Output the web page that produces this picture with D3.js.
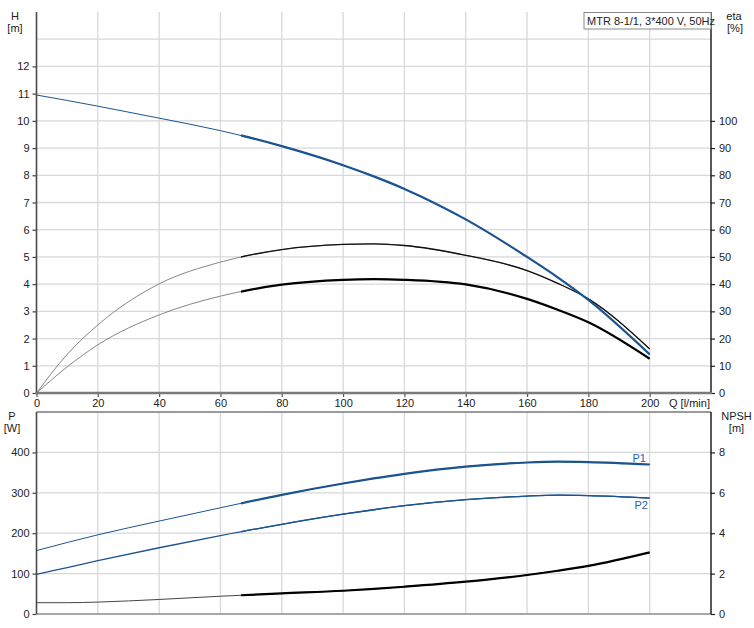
<!DOCTYPE html>
<html>
<head>
<meta charset="utf-8">
<script src="https://cdn.jsdelivr.net/npm/d3@7"></script>
<style>
  html, body { margin: 0; padding: 0; background: #fff; }
  svg { display: block; font-family: "Liberation Sans", Arial, sans-serif; }
</style>
</head>
<body>
<svg id="chart" width="754" height="628"></svg>
<script>
// ---------- data ----------
const flowQ      = [0, 10, 20, 40, 60, 80, 100, 110, 120, 140, 160, 170, 180, 200];
const headH      = [10.95, 10.75, 10.54, 10.1, 9.64, 9.07, 8.37, 7.96, 7.5, 6.38, 5.0, 4.25, 3.42, 1.42];
const etaPump    = [0, 14.2, 25.0, 40.1, 48.1, 52.7, 54.6, 54.8, 54.2, 50.6, 45, 40.3, 34.6, 16.2];
const etaTotal   = [0, 9.6, 17.7, 28.7, 35.6, 39.8, 41.6, 41.85, 41.6, 39.9, 34.6, 30.6, 26, 12.6];
const powerP1    = [157, 177, 196, 230, 263, 295, 323, 335.5, 347, 365, 375, 377, 376, 370];
const powerP2    = [98, 115, 132, 164, 194, 222, 247, 258, 268, 283, 292, 294, 293, 287];
const npshR      = [0.56, 0.56, 0.59, 0.72, 0.88, 1.02, 1.15, 1.24, 1.35, 1.6, 1.93, 2.14, 2.38, 3.05];

const qTicks     = [0, 20, 40, 60, 80, 100, 120, 140, 160, 180, 200];
const hTicks     = [0, 1, 2, 3, 4, 5, 6, 7, 8, 9, 10, 11, 12];
const hGrid      = [1, 2, 3, 4, 5, 6, 7, 8, 9, 10, 11, 12, 13];
const etaTicks   = [0, 10, 20, 30, 40, 50, 60, 70, 80, 90, 100];
const pTicks     = [0, 100, 200, 300, 400];
const npshTicks  = [0, 2, 4, 6, 8];
const splitQ     = 66.7;
const titleText  = "MTR 8-1/1, 3*400 V, 50Hz";

// ---------- layout ----------
const svg = d3.select("#chart");
const X0 = 36.5, X1 = 711;
const topY0 = 393, topY1 = 12;
const botY0 = 614, botY1 = 412;

const x = d3.scaleLinear().domain([0, 220]).range([X0, X1]);
const yH = d3.scaleLinear().domain([0, 14]).range([topY0, topY1]);
const yEta = d3.scaleLinear().domain([0, 140]).range([topY0, topY1]);
const yP = d3.scaleLinear().domain([0, 500]).range([botY0, botY1]);
const yN = d3.scaleLinear().domain([0, 10]).range([botY0, botY1]);

const blue = "#1c5490";
const gridC = "#d6d8da";
const textC = "#222";
const fontSize = 11;

// ---------- grids ----------
const grid = svg.append("g");
qTicks.filter(d => d > 0).forEach(q => {
  grid.append("line").attr("x1", x(q)).attr("x2", x(q)).attr("y1", topY1).attr("y2", topY0)
    .attr("stroke", gridC).attr("stroke-width", 1.3);
  grid.append("line").attr("x1", x(q)).attr("x2", x(q)).attr("y1", botY1).attr("y2", botY0)
    .attr("stroke", gridC).attr("stroke-width", 1.3);
});
hGrid.forEach(h => {
  grid.append("line").attr("x1", X0).attr("x2", X1).attr("y1", yH(h)).attr("y2", yH(h))
    .attr("stroke", gridC).attr("stroke-width", 1.3);
});
[100, 200, 300, 400].forEach(p => {
  grid.append("line").attr("x1", X0).attr("x2", X1).attr("y1", yP(p)).attr("y2", yP(p))
    .attr("stroke", gridC).attr("stroke-width", 1.3);
});

// ---------- axes ----------
function styleAxis(g, color, width) {
  g.select(".domain").remove();
  g.selectAll(".tick line").attr("stroke", color).attr("stroke-width", width);
  g.selectAll(".tick text").attr("fill", textC).attr("font-size", fontSize)
    .attr("font-family", "Liberation Sans, Arial, sans-serif");
}

// top chart
const axL = svg.append("g").attr("transform", `translate(${X0},0)`)
  .call(d3.axisLeft(yH).tickValues(hTicks).tickSize(4).tickPadding(3).tickFormat(d3.format("d")));
styleAxis(axL, "#444", 1.2);
const axR = svg.append("g").attr("transform", `translate(${X1},0)`)
  .call(d3.axisRight(yEta).tickValues(etaTicks).tickSize(4).tickPadding(4).tickFormat(d3.format("d")));
styleAxis(axR, "#222", 1.2);
const axB = svg.append("g").attr("transform", `translate(0,${topY0})`)
  .call(d3.axisBottom(x).tickValues(qTicks).tickSize(4).tickPadding(2).tickFormat(d3.format("d")));
styleAxis(axB, "#555", 1.2);

// bottom chart
const axPL = svg.append("g").attr("transform", `translate(${X0},0)`)
  .call(d3.axisLeft(yP).tickValues(pTicks).tickSize(4).tickPadding(3).tickFormat(d3.format("d")));
styleAxis(axPL, "#444", 1.2);
const axNR = svg.append("g").attr("transform", `translate(${X1},0)`)
  .call(d3.axisRight(yN).tickValues(npshTicks).tickSize(4).tickPadding(4).tickFormat(d3.format("d")));
styleAxis(axNR, "#222", 1.2);

// frame lines
svg.append("line").attr("x1", X0).attr("x2", X0).attr("y1", topY1).attr("y2", topY0)
  .attr("stroke", "#4a4a4a").attr("stroke-width", 1.6);
svg.append("line").attr("x1", X1).attr("x2", X1).attr("y1", topY1).attr("y2", topY0)
  .attr("stroke", "#111").attr("stroke-width", 1.4);
svg.append("line").attr("x1", X0 - 1).attr("x2", X1 + 1).attr("y1", topY0).attr("y2", topY0)
  .attr("stroke", "#7a7a7a").attr("stroke-width", 2.4);

svg.append("line").attr("x1", X0).attr("x2", X1).attr("y1", botY1).attr("y2", botY1)
  .attr("stroke", "#9a9a9a").attr("stroke-width", 2);
svg.append("line").attr("x1", X0).attr("x2", X1).attr("y1", botY0).attr("y2", botY0)
  .attr("stroke", "#a8a8a8").attr("stroke-width", 2);
svg.append("line").attr("x1", X0).attr("x2", X0).attr("y1", botY1).attr("y2", botY0)
  .attr("stroke", "#4a4a4a").attr("stroke-width", 1.6);
svg.append("line").attr("x1", X1).attr("x2", X1).attr("y1", botY1).attr("y2", botY0)
  .attr("stroke", "#111").attr("stroke-width", 1.4);

// ---------- curves ----------
const defs = svg.append("defs");
defs.append("clipPath").attr("id", "thickClip").append("rect")
  .attr("x", x(splitQ)).attr("y", 0).attr("width", X1 - x(splitQ) + 5).attr("height", 628);

function drawCurve(values, yScale, thinColor, thickColor, thinW, thickW) {
  const line = d3.line().x((d, i) => x(flowQ[i])).y(d => yScale(d)).curve(d3.curveMonotoneX);
  svg.append("path").datum(values).attr("d", line).attr("fill", "none")
    .attr("stroke", thinColor).attr("stroke-width", thinW);
  if (thickW) {
    svg.append("path").datum(values).attr("d", line).attr("fill", "none")
      .attr("stroke", thickColor).attr("stroke-width", thickW).attr("clip-path", "url(#thickClip)");
  }
}

drawCurve(etaPump, yEta, "#777", "#111", 0.9, 1.3);
drawCurve(etaTotal, yEta, "#777", "#000", 0.9, 2.2);
drawCurve(headH, yH, blue, blue, 1, 2.2);

drawCurve(powerP2, yP, blue, blue, 1.3, 1.3);
drawCurve(powerP1, yP, blue, blue, 1, 2.2);
drawCurve(npshR, yN, "#444", "#000", 1, 2.2);

// ---------- labels ----------
function txt(s, xp, yp, anchor, color) {
  svg.append("text").attr("x", xp).attr("y", yp).attr("text-anchor", anchor || "start")
    .attr("fill", color || textC).attr("font-size", fontSize).text(s);
}
txt("H", 15, 19.5, "middle");
txt("[m]", 15, 32, "middle");
txt("eta", 734, 19.5, "middle");
txt("[%]", 735, 32, "middle");
txt("Q [l/min]", 669, 407, "start");
txt("P", 12, 419.5, "middle");
txt("[W]", 12, 432, "middle");
txt("NPSH", 736.5, 420, "middle");
txt("[m]", 736.5, 432, "middle");

// series tags
txt("P1", 646, 461.5, "end", "#2a62a6");
txt("P2", 648, 509, "end", "#2a62a6");

// title box
const tb = svg.append("g");
tb.append("rect").attr("x", 584).attr("y", 12.5).attr("width", X1 - 584).attr("height", 16.5)
  .attr("fill", "#fff").attr("stroke", "#888").attr("stroke-width", 1);
tb.append("text").attr("x", 587).attr("y", 24.5).attr("fill", textC).attr("font-size", fontSize)
  .text(titleText);
</script>
</body>
</html>
